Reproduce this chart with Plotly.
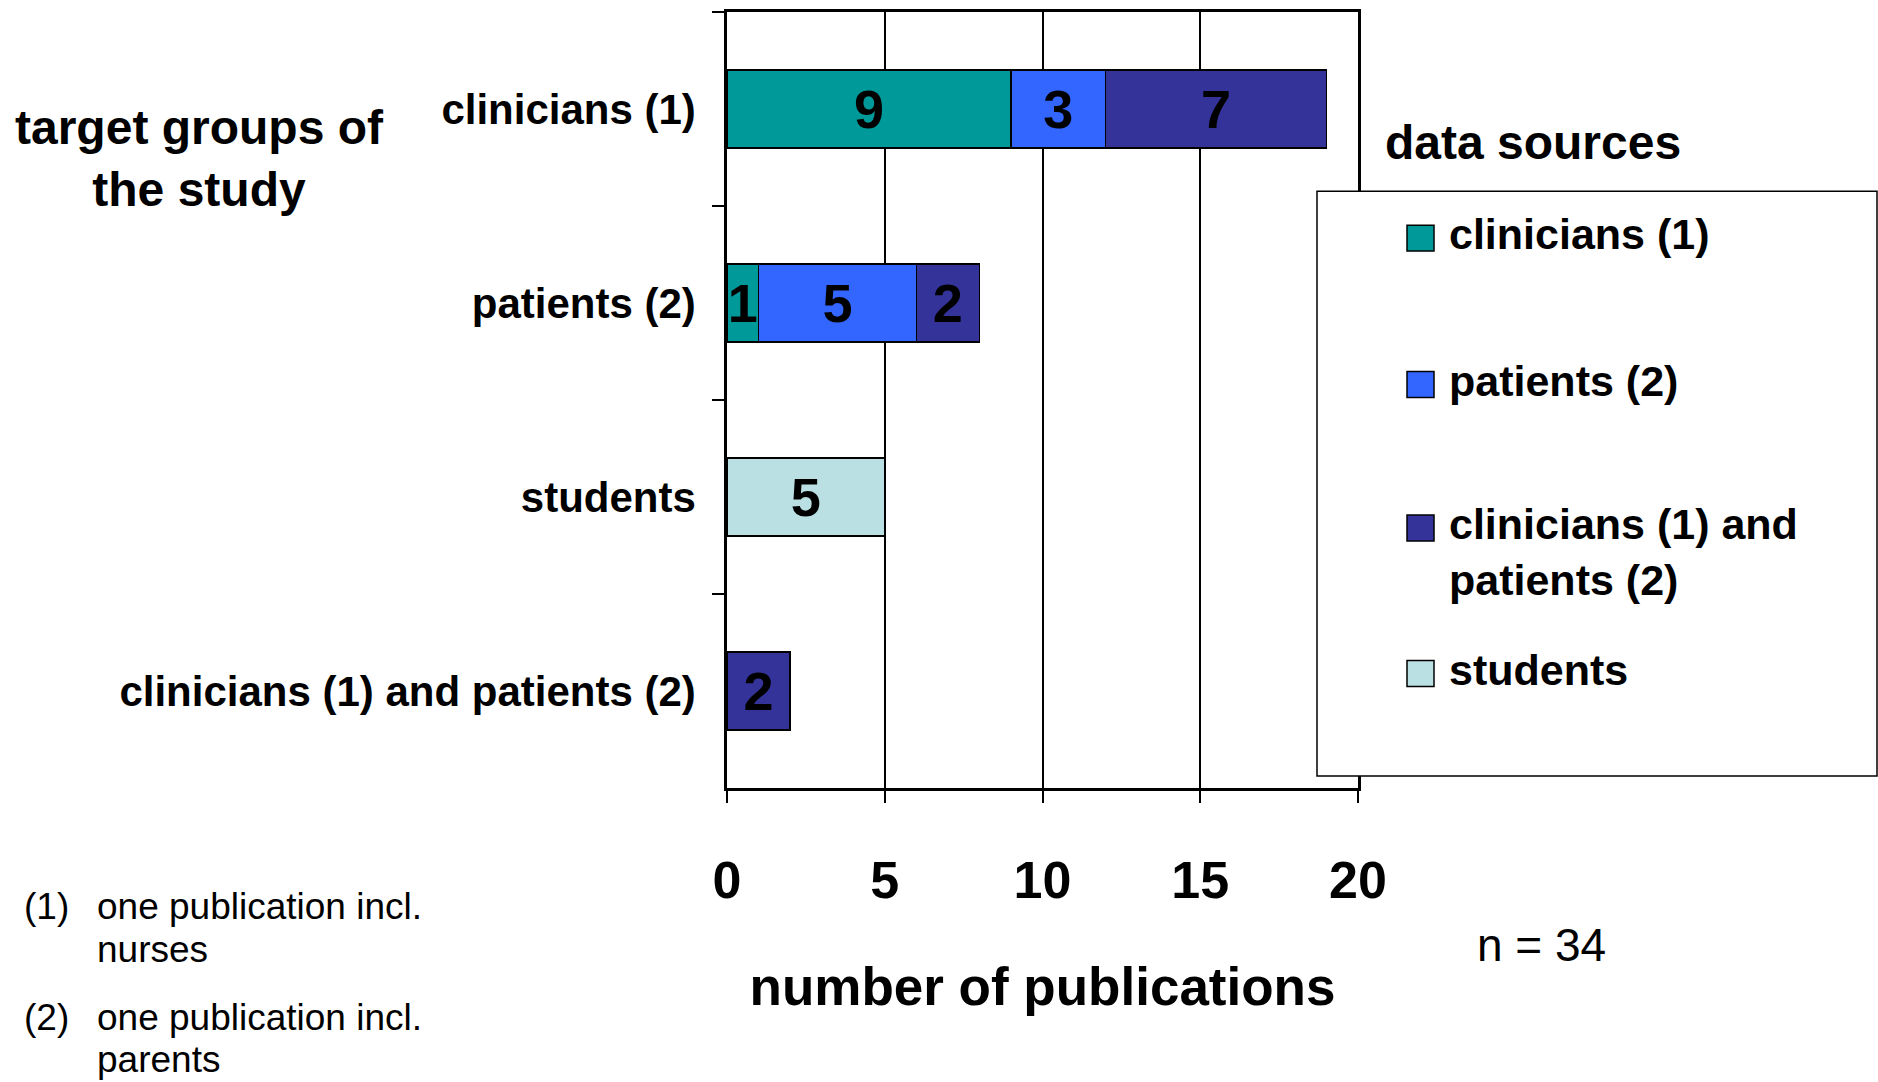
import plotly.graph_objects as go

# ---------------- data ----------------
categories = ["clinicians (1)", "patients (2)", "students", "clinicians (1) and patients (2)"]
series_names = ["clinicians (1)", "patients (2)", "clinicians (1) and<br>patients (2)", "students"]
clinicians_vals = [9, 1, None, None]
patients_vals = [3, 5, None, None]
both_vals = [7, 2, None, 2]
students_vals = [None, None, 5, None]
series_colors = ["#009999", "#3366FF", "#333399", "#BBE0E3"]
x_ticks = [0, 5, 10, 15, 20]
n_total = 34
footnotes = [("(1)", ["one publication incl.", "nurses"]),
             ("(2)", ["one publication incl.", "parents"])]

# ---------------- layout geometry (pixels) ----------------
W, H = 1878, 1082
L, R, T, B = 727, 1358, 9, 788
PW, PH = R - L, B - T


def px(X):
    return (X - L) / PW


def py(Y):
    return (B - Y) / PH


SANS = "Liberation Sans, Arial, sans-serif"
NARROW = "Liberation Sans Narrow, Arial Narrow, Liberation Sans, Arial, sans-serif"

fig = go.Figure()
all_series = [clinicians_vals, patients_vals, both_vals, students_vals]
for name, vals, col in zip(series_names, all_series, series_colors):
    fig.add_trace(go.Bar(
        y=categories, x=vals, orientation="h", name=name,
        marker=dict(color=col, line=dict(color="black", width=1.5)),
        text=[str(v) if v else "" for v in vals],
        textposition="inside", insidetextanchor="middle",
        constraintext="none",
        textfont=dict(family=NARROW, size=54, color="black", weight="bold"),
        showlegend=False, hoverinfo="skip",
    ))

fig.update_layout(
    width=W, height=H,
    margin=dict(l=L, r=W - R, t=T, b=H - B, pad=0),
    barmode="stack", bargap=0.6,
    plot_bgcolor="white", paper_bgcolor="white",
    showlegend=False,
)

fig.update_yaxes(
    categoryorder="array", categoryarray=categories, autorange="reversed",
    tickson="boundaries", ticks="outside", ticklen=12, tickwidth=2, tickcolor="black",
    showline=True, linewidth=2.5, linecolor="black", mirror=True,
    showgrid=False, zeroline=False,
    tickfont=dict(family=SANS, size=42, color="black", weight="bold"),
    ticklabelstandoff=20,
)
fig.update_xaxes(
    range=[0, 20], tickvals=x_ticks, ticktext=[str(t) for t in x_ticks],
    ticks="outside", ticklen=12, tickwidth=2, tickcolor="black",
    showline=True, linewidth=2.5, linecolor="black", mirror=True,
    showgrid=True, gridcolor="black", gridwidth=1.5, zeroline=False,
    tickfont=dict(family=NARROW, size=52, color="black", weight="bold"),
    ticklabelstandoff=33,
    title=dict(text="number of publications", standoff=60,
               font=dict(family=NARROW, size=53, color="black", weight="bold")),
)

annotations = []
shapes = []

# y-axis group title
annotations.append(dict(
    text="target groups of<br>the study", x=px(199), y=py(156), xref="paper", yref="paper",
    xanchor="center", yanchor="middle", align="center", showarrow=False,
    font=dict(family=SANS, size=48, color="black", weight="bold")))

# legend (drawn by hand for matching geometry)
shapes.append(dict(type="rect", xref="paper", yref="paper", layer="above",
                   x0=px(1317), x1=px(1877), y0=py(776), y1=py(189),
                   line=dict(color="black", width=1.5), fillcolor="white"))
annotations.append(dict(
    text="data sources", x=px(1383), y=py(140), xref="paper", yref="paper",
    xanchor="left", yanchor="middle", showarrow=False,
    font=dict(family=SANS, size=48, color="black", weight="bold")))
legend_y = [236, 383, 527, 673]
for name, col, yc in zip(series_names, series_colors, legend_y):
    shapes.append(dict(type="rect", xref="paper", yref="paper", layer="above",
                       x0=px(1407), x1=px(1434), y0=py(yc + 13), y1=py(yc - 13),
                       line=dict(color="black", width=1.5), fillcolor=col))
    annotations.append(dict(
        text=name, x=px(1447), y=py(yc - 30), xref="paper", yref="paper",
        xanchor="left", yanchor="top", align="left", showarrow=False,
        font=dict(family=SANS, size=43, color="black", weight="bold")))

# n = 34
annotations.append(dict(
    text=f"n = {n_total}", x=px(1541), y=py(946), xref="paper", yref="paper",
    xanchor="center", yanchor="middle", showarrow=False,
    font=dict(family=NARROW, size=46, color="black")))

# footnotes
foot_y = [[907, 950], [1018, 1061]]
for (mark, lines), ys in zip(footnotes, foot_y):
    annotations.append(dict(
        text=mark, x=px(22), y=py(ys[0]), xref="paper", yref="paper",
        xanchor="left", yanchor="middle", showarrow=False,
        font=dict(family=SANS, size=37, color="black")))
    for line, yy in zip(lines, ys):
        annotations.append(dict(
            text=line, x=px(95), y=py(yy), xref="paper", yref="paper",
            xanchor="left", yanchor="middle", showarrow=False,
            font=dict(family=SANS, size=37, color="black")))

fig.update_layout(annotations=annotations, shapes=shapes)

fig.write_html("out.html", config={"displayModeBar": False},
               post_script="document.body.style.margin='0';")
